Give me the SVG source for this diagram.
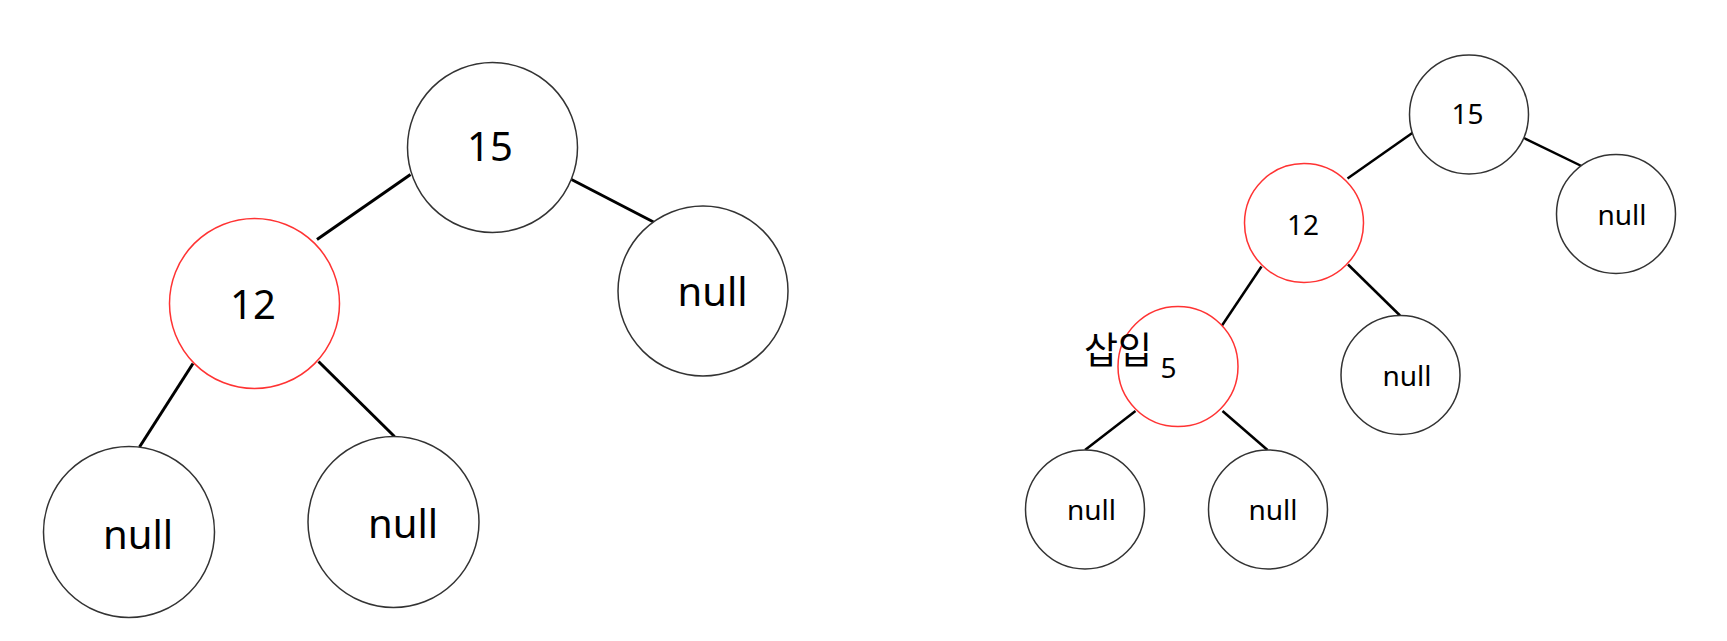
<svg xmlns="http://www.w3.org/2000/svg" width="1727" height="641" viewBox="0 0 1727 641">
<style>
.n{fill:#fff;stroke:#333;stroke-width:1.5}
.e{stroke:#000;stroke-width:3;stroke-linecap:butt}
.es{stroke:#000;stroke-width:2.5}
text{font-family:"Noto Sans","Noto Sans CJK KR",sans-serif;fill:#000;text-anchor:middle}
.big{font-size:40px}
.sm{font-size:28px}
.kr{font-family:"Noto Sans CJK KR",sans-serif;font-size:37px;text-anchor:start}
</style>
<rect width="1727" height="641" fill="#fff"/>
<g id="connectors">
<line class="e" x1="410.5" y1="174.5" x2="317" y2="239.5"/>
<line class="e" x1="571.5" y1="179.5" x2="654.5" y2="222.5"/>
<line class="e" x1="193" y1="363.5" x2="139.5" y2="447"/>
<line class="e" x1="318.5" y1="361.5" x2="394.5" y2="436.5"/>
<line class="es" x1="1413" y1="132.5" x2="1347.5" y2="178.5"/>
<line class="es" x1="1524" y1="138" x2="1582.5" y2="166.5"/>
<line class="es" x1="1261.5" y1="266.5" x2="1222" y2="325.5"/>
<line class="es" x1="1348" y1="264.5" x2="1400" y2="315.5"/>
<line class="es" x1="1135.5" y1="411" x2="1085" y2="450"/>
<line class="es" x1="1222.5" y1="411" x2="1267.5" y2="450"/>
</g>
<g id="L15"><circle class="n" cx="492.5" cy="147.5" r="85"/><text class="big" x="490" y="161">15</text></g>
<g id="L12"><circle class="n" cx="254.5" cy="303.5" r="85" style="stroke:#f33"/><text class="big" x="253" y="319">12</text></g>
<g id="Lnull1"><circle class="n" cx="703" cy="291" r="85"/><text class="big" x="712.5" y="305.5">null</text></g>
<g id="Lnull2"><circle class="n" cx="129" cy="532" r="85.5"/><text class="big" x="138" y="548.5">null</text></g>
<g id="Lnull3"><circle class="n" cx="393.5" cy="522" r="85.5"/><text class="big" x="403" y="538">null</text></g>
<g id="R15"><circle class="n" cx="1469" cy="114.5" r="59.5"/><text class="sm" x="1467.5" y="123.5">15</text></g>
<g id="R12"><circle class="n" cx="1304" cy="223" r="59.5" style="stroke:#f33"/><text class="sm" x="1303" y="234.5">12</text></g>
<g id="Rnull1"><circle class="n" cx="1616" cy="214" r="59.5"/><text class="sm" x="1622" y="225">null</text></g>
<g id="R5"><circle class="n" cx="1178" cy="366.5" r="60" style="stroke:#f33;fill:none"/><text class="sm" x="1168.5" y="377.5">5</text><text class="kr" x="1084" y="364">삽입</text></g>
<g id="Rnull2"><circle class="n" cx="1400.5" cy="375" r="59.5"/><text class="sm" x="1407" y="386">null</text></g>
<g id="Rnull3"><circle class="n" cx="1085" cy="509.5" r="59.5"/><text class="sm" x="1091.5" y="520">null</text></g>
<g id="Rnull4"><circle class="n" cx="1268" cy="509.5" r="59.5"/><text class="sm" x="1273" y="520">null</text></g>
</svg>
